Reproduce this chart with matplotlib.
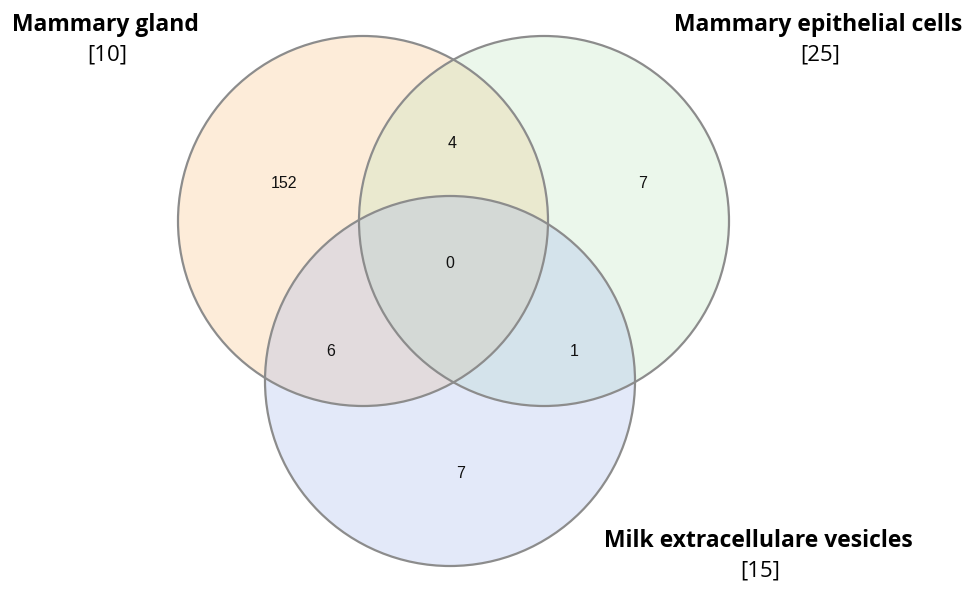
import matplotlib
matplotlib.use("Agg")
import matplotlib.pyplot as plt
from matplotlib.patches import Circle

# set names and study counts
set_names = ["Mammary gland", "Mammary epithelial cells", "Milk extracellulare vesicles"]
set_refs = ["[10]", "[25]", "[15]"]

# region counts: only A, only B, only C, AB, AC, BC, ABC
region_keys = ["A", "B", "C", "AB", "AC", "BC", "ABC"]
region_counts = [152, 7, 7, 4, 6, 1, 0]

# layout (pixel coordinates, y downwards)
centers = [(363, 221), (544, 221), (450, 381)]
radius = 185
fills = ["#f9b76a", "#b3e3b3", "#93abeb"]
label_pos = [(105, 25), (818, 25), (758, 541)]
region_pos = {
    "A": (284, 183), "B": (643, 183), "C": (461, 474),
    "AB": (452, 143), "AC": (331, 352), "BC": (574, 352), "ABC": (450, 263),
}

fig = plt.figure(figsize=(9.68, 5.89), dpi=100)
ax = fig.add_axes([0, 0, 1, 1])
ax.set_xlim(0, 968)
ax.set_ylim(589, 0)
ax.set_aspect("equal")
ax.axis("off")

for (cx, cy), col in zip(centers, fills):
    ax.add_patch(Circle((cx, cy), radius, facecolor=col, alpha=0.25, edgecolor="none"))
for (cx, cy) in centers:
    ax.add_patch(Circle((cx, cy), radius, facecolor="none", edgecolor="#8c8c8c", lw=1.6))

for key, n in zip(region_keys, region_counts):
    x, y = region_pos[key]
    ax.text(x, y, str(n), ha="center", va="center", fontsize=11.5,
            family="Liberation Sans", color="#111111")

for name, ref, (x, y) in zip(set_names, set_refs, label_pos):
    ax.text(x, y, name, ha="center", va="center", fontsize=16.5,
            fontweight="bold", family="Open Sans", color="black")
    ax.text(x + 2, y + 30, ref, ha="center", va="center", fontsize=16,
            family="Open Sans", color="black")

fig.savefig("out.png", dpi=100)
